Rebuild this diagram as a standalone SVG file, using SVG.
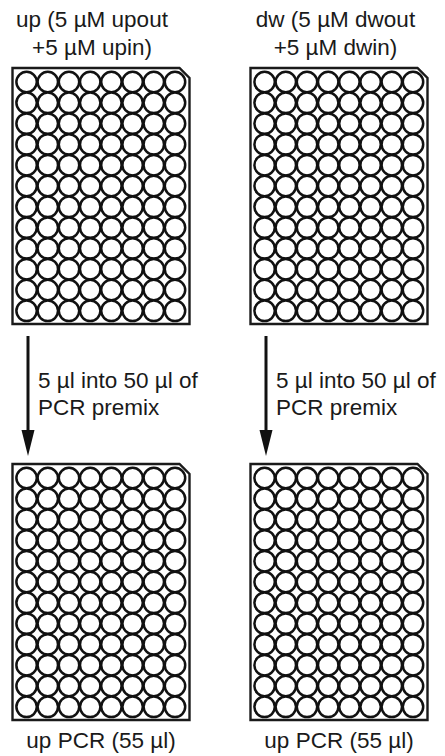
<svg xmlns="http://www.w3.org/2000/svg" xmlns:xlink="http://www.w3.org/1999/xlink" width="445" height="756" viewBox="0 0 445 756">
<style>
  .lbl { font-family: "Liberation Sans", Arial, sans-serif; font-size: 22.5px; fill: #1a1a1a; }
  .mid { text-anchor: middle; }
  .outline { fill: #ffffff; stroke: #1a1a1a; stroke-width: 2.4; }
  .well { fill: #ffffff; stroke: #111111; stroke-width: 2.5; }
  .shaft { stroke: #111111; stroke-width: 3; fill: none; }
  .head { fill: #111111; }
</style>
<defs>
  <g id="row">
    <circle class="well" cx="14.1" cy="0" r="10.2"/>
    <circle class="well" cx="35.3" cy="0" r="10.2"/>
    <circle class="well" cx="56.5" cy="0" r="10.2"/>
    <circle class="well" cx="77.7" cy="0" r="10.2"/>
    <circle class="well" cx="98.9" cy="0" r="10.2"/>
    <circle class="well" cx="120.1" cy="0" r="10.2"/>
    <circle class="well" cx="141.3" cy="0" r="10.2"/>
    <circle class="well" cx="162.5" cy="0" r="10.2"/>
  </g>
  <g id="plate">
    <path class="outline" d="M0,0 H167 L177,10 V256 H0 Z"/>
    <use xlink:href="#row" y="14"/>
    <use xlink:href="#row" y="34.8"/>
    <use xlink:href="#row" y="55.6"/>
    <use xlink:href="#row" y="76.4"/>
    <use xlink:href="#row" y="97.2"/>
    <use xlink:href="#row" y="118"/>
    <use xlink:href="#row" y="138.8"/>
    <use xlink:href="#row" y="159.6"/>
    <use xlink:href="#row" y="180.4"/>
    <use xlink:href="#row" y="201.2"/>
    <use xlink:href="#row" y="222"/>
    <use xlink:href="#row" y="242.8"/>
  </g>
</defs>

<g id="up-plate">
  <text class="lbl mid" x="92" y="27">up (5 µM upout</text>
  <text class="lbl mid" x="92" y="55">+5 µM upin)</text>
  <use xlink:href="#plate" x="12.5" y="68"/>
</g>

<g id="dw-plate">
  <text class="lbl mid" x="335.5" y="27">dw (5 µM dwout</text>
  <text class="lbl mid" x="335.5" y="55">+5 µM dwin)</text>
  <use xlink:href="#plate" x="250.5" y="68"/>
</g>

<g id="up-pcr-left">
  <use xlink:href="#plate" x="12.5" y="464"/>
  <text class="lbl mid" x="101" y="748">up PCR (55 µl)</text>
</g>

<g id="up-pcr-right">
  <use xlink:href="#plate" x="250.5" y="464"/>
  <text class="lbl mid" x="339" y="748">up PCR (55 µl)</text>
</g>

<g id="connectors">
  <line class="shaft" x1="28" y1="336" x2="28" y2="434"/>
  <polygon class="head" points="21.5,430 34.5,430 28,456"/>
  <text class="lbl" x="38" y="388">5 µl into 50 µl of</text>
  <text class="lbl" x="38" y="415">PCR premix</text>

  <line class="shaft" x1="266" y1="336" x2="266" y2="434"/>
  <polygon class="head" points="259.5,430 272.5,430 266,456"/>
  <text class="lbl" x="276" y="388">5 µl into 50 µl of</text>
  <text class="lbl" x="276" y="415">PCR premix</text>
</g>
</svg>
